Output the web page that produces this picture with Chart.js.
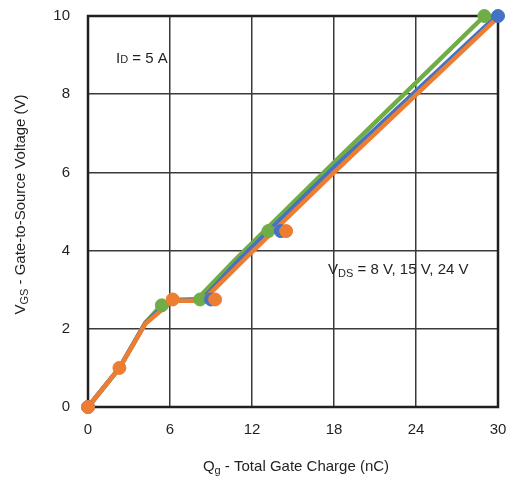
<!DOCTYPE html>
<html>
<head>
<meta charset="utf-8">
<script src="https://cdn.jsdelivr.net/npm/chart.js@4/dist/chart.umd.min.js"></script>
<style>
  html, body { margin: 0; padding: 0; background: #fff; }
  #wrap { width: 507px; height: 477px; }
</style>
</head>
<body>
<div id="wrap"><canvas id="gate-chart"></canvas></div>
<script>
// Curves (Qg nC, Vgs V)
const greenLine = [[0, 0], [2.3, 1.0], [4.2, 2.15], [5.4, 2.62], [6.2, 2.74], [8.0, 2.76], [10.75, 3.76], [17.26, 6.0], [29.0, 10.0]];
const blueLine = [[0, 0], [2.3, 1.0], [4.2, 2.15], [5.8, 2.66], [6.2, 2.72], [8.3, 2.73], [11.05, 3.76], [17.63, 6.0], [29.9, 10.0]];
const orangeLine = [[0, 0], [2.3, 1.0], [4.2, 2.13], [6.2, 2.72], [8.4, 2.72], [11.4, 3.76], [18.0, 6.0], [29.9, 9.93]];

// Marker points
const greenDots = [[5.4, 2.6], [8.2, 2.75], [13.2, 4.5], [29.0, 10.0]];
const blueDots = [[0, 0], [9.0, 2.75], [14.1, 4.5], [30, 10.0]];
const orangeDots = [[0, 0], [2.3, 1.0], [6.2, 2.75], [9.3, 2.75], [14.5, 4.5]];

const xTicks = [0, 6, 12, 18, 24, 30];
const yTicks = [0, 2, 4, 6, 8, 10];

const GREEN = '#70ad47';
const BLUE = '#4472c4';
const ORANGE = '#ed7d31';
const FONT = '"Liberation Sans", Arial, sans-serif';

const toXY = arr => arr.map(p => ({ x: p[0], y: p[1] }));

function lineSet(data, color, order) {
  return {
    type: 'line', data: toXY(data), borderColor: color, backgroundColor: color,
    borderWidth: 4.5, pointRadius: 0, tension: 0, fill: false, order: order, clip: false
  };
}
function dotSet(data, color, order) {
  return {
    type: 'scatter', data: toXY(data), backgroundColor: color, borderColor: color,
    pointRadius: 6.5, pointHoverRadius: 6.5, order: order, clip: false
  };
}

// text with a smaller part after the main letter
function drawSub(ctx, x, y, main, sub, rest, size, subShift) {
  ctx.font = size + 'px ' + FONT;
  ctx.fillText(main, x, y);
  let w = ctx.measureText(main).width;
  ctx.font = Math.round(size * 0.7) + 'px ' + FONT;
  ctx.fillText(sub, x + w, y + subShift);
  w += ctx.measureText(sub).width;
  ctx.font = size + 'px ' + FONT;
  ctx.fillText(rest, x + w, y);
  return w + ctx.measureText(rest).width;
}

function subWidth(ctx, main, sub, rest, size) {
  ctx.font = size + 'px ' + FONT;
  let w = ctx.measureText(main).width + ctx.measureText(rest).width;
  ctx.font = Math.round(size * 0.7) + 'px ' + FONT;
  return w + ctx.measureText(sub).width;
}

const labels = {
  id: 'labels',
  beforeDatasetsDraw(chart) {
    // frame under the data
    const ctx = chart.ctx;
    const area = chart.chartArea;
    ctx.save();
    ctx.strokeStyle = '#231f20';
    ctx.lineWidth = 2.5;
    ctx.strokeRect(area.left, area.top, area.right - area.left, area.bottom - area.top);
    ctx.restore();
  },
  afterDraw(chart) {
    const ctx = chart.ctx;
    const area = chart.chartArea;
    ctx.save();
    ctx.fillStyle = '#231f20';
    ctx.textAlign = 'left';
    ctx.textBaseline = 'alphabetic';

    // annotations
    drawSub(ctx, 116, 63, 'I', 'D', ' = 5 A', 15, 0);
    drawSub(ctx, 328, 274, 'V', 'DS', ' = 8 V, 15 V, 24 V', 15, 3);

    // x title
    const xw = subWidth(ctx, 'Q', 'g', ' - Total Gate Charge (nC)', 15);
    drawSub(ctx, (area.left + area.right) / 2 - xw / 2 + 3, 471, 'Q', 'g', ' - Total Gate Charge (nC)', 15, 3);

    // y title
    ctx.translate(25, (area.top + area.bottom) / 2 - 7);
    ctx.rotate(-Math.PI / 2);
    const yw = subWidth(ctx, 'V', 'GS', ' - Gate-to-Source Voltage (V)', 15);
    drawSub(ctx, -yw / 2, 0, 'V', 'GS', ' - Gate-to-Source Voltage (V)', 15, 3);
    ctx.restore();
  }
};

new Chart(document.getElementById('gate-chart'), {
  data: {
    datasets: [
      lineSet(greenLine, GREEN, 6),
      lineSet(blueLine, BLUE, 5),
      lineSet(orangeLine, ORANGE, 4),
      dotSet(greenDots, GREEN, 3),
      dotSet(blueDots, BLUE, 2),
      dotSet(orangeDots, ORANGE, 1)
    ]
  },
  options: {
    responsive: true,
    maintainAspectRatio: false,
    animation: false,
    layout: { padding: { left: 0, right: 9, top: 16, bottom: 0 } },
    plugins: { legend: { display: false }, tooltip: { enabled: false } },
    scales: {
      x: {
        type: 'linear', min: 0, max: 30,
        afterBuildTicks: s => { s.ticks = xTicks.map(v => ({ value: v })); },
        afterFit: s => { s.height = 70; s.paddingLeft = 0; s.paddingRight = 0; },
        grid: { color: '#3a3a3a', lineWidth: 1.5, drawTicks: false },
        border: { display: false },
        ticks: { color: '#231f20', padding: 14, maxRotation: 0, font: { size: 15, family: FONT } }
      },
      y: {
        type: 'linear', min: 0, max: 10,
        afterBuildTicks: s => { s.ticks = yTicks.map(v => ({ value: v })); },
        afterFit: s => { s.width = 88; s.paddingTop = 0; s.paddingBottom = 0; },
        grid: { color: '#3a3a3a', lineWidth: 1.5, drawTicks: false },
        border: { display: false },
        ticks: { color: '#231f20', padding: 18, font: { size: 15, family: FONT } }
      }
    }
  },
  plugins: [labels]
});
</script>
</body>
</html>
